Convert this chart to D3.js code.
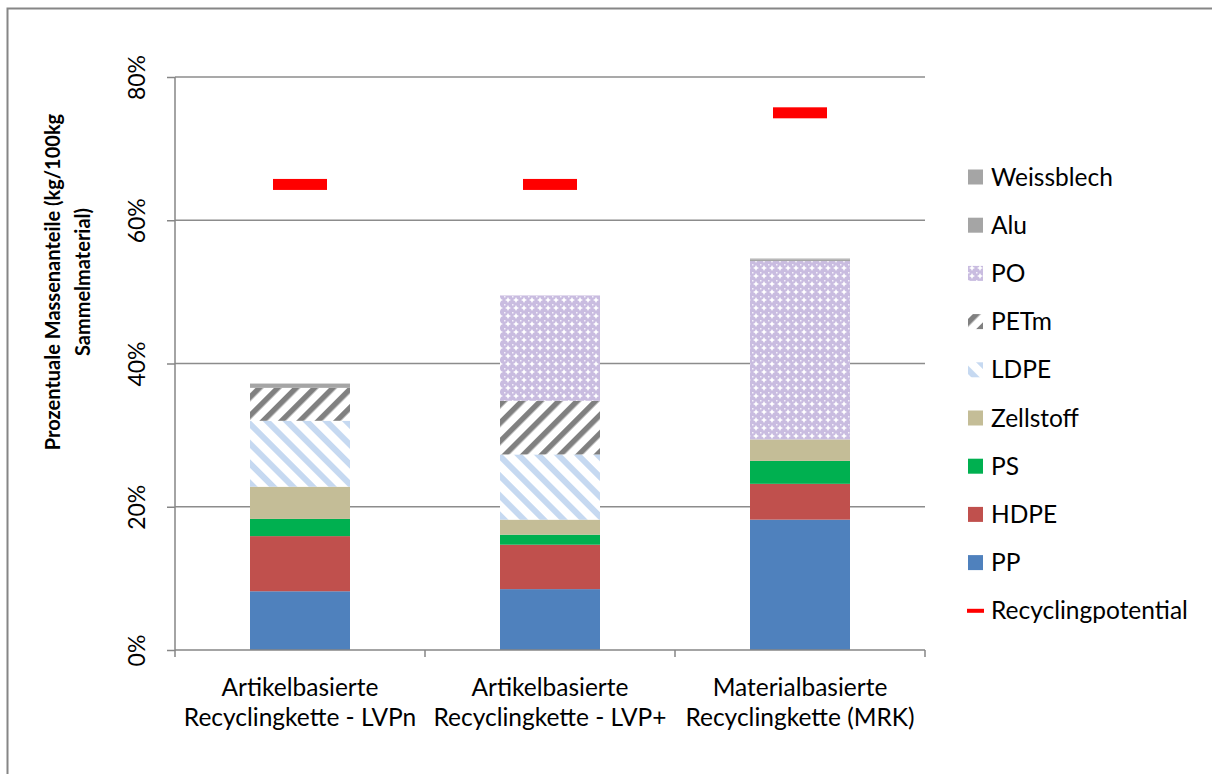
<!DOCTYPE html>
<html>
<head>
<meta charset="utf-8">
<script src="https://cdn.jsdelivr.net/npm/d3@7"></script>
<style>
body{margin:0;background:#fff;}
svg{display:block;font-family:Lato,"Open Sans",sans-serif;}
</style>
</head>
<body>
<svg id="chart" width="1212" height="774"></svg>
<script>
// ---- data ----
const categories = [
  ["Artikelbasierte", "Recyclingkette - LVPn"],
  ["Artikelbasierte", "Recyclingkette - LVP+"],
  ["Materialbasierte", "Recyclingkette (MRK)"]
];
const seriesNames = ["PP","HDPE","PS","Zellstoff","LDPE","PETm","PO","Alu","Weissblech"];
const PP         = [8.2, 8.5, 18.2];
const HDPE       = [7.7, 6.2, 5.0];
const PS         = [2.4, 1.4, 3.2];
const Zellstoff  = [4.5, 2.1, 3.0];
const LDPE       = [9.2, 9.1, 0];
const PETm       = [4.6, 7.5, 0];
const PO         = [0, 14.7, 24.9];
const Alu        = [0.4, 0, 0.2];
const Weissblech = [0.2, 0, 0.15];
const Recyclingpotential = [65, 65, 75];
const yTicks = [0, 20, 40, 60, 80];
const legendOrder = ["Weissblech","Alu","PO","PETm","LDPE","Zellstoff","PS","HDPE","PP","Recyclingpotential"];

const valuesBySeries = {PP, HDPE, PS, Zellstoff, LDPE, PETm, PO, Alu, Weissblech};
const fills = {
  PP:"#4f81bd", HDPE:"#c0504d", PS:"#00b050", Zellstoff:"#c4bd97",
  LDPE:"url(#pLDPE)", PETm:"url(#pPETm)", PO:"url(#pPO)",
  Alu:"#a5a5a5", Weissblech:"#a5a5a5"
};

const svg = d3.select("#chart");
const defs = svg.append("defs");

// patterns
const pL = defs.append("pattern").attr("id","pLDPE").attr("patternUnits","userSpaceOnUse")
  .attr("width",14).attr("height",14).attr("patternTransform","rotate(-45)");
pL.append("rect").attr("width",14).attr("height",14).attr("fill","#ffffff");
pL.append("rect").attr("width",6).attr("height",14).attr("fill","#c6d9f1");

const pP = defs.append("pattern").attr("id","pPETm").attr("patternUnits","userSpaceOnUse")
  .attr("width",13).attr("height",13).attr("patternTransform","rotate(45)");
pP.append("rect").attr("width",13).attr("height",13).attr("fill","#ffffff");
pP.append("rect").attr("width",5.5).attr("height",13).attr("fill","#808080");

const pO = defs.append("pattern").attr("id","pPO").attr("patternUnits","userSpaceOnUse")
  .attr("width",8).attr("height",8);
pO.append("rect").attr("width",8).attr("height",8).attr("fill","#c9bce0");
pO.append("path").attr("d","M4,1 L5,3 L7,4 L5,5 L4,7 L3,5 L1,4 L3,3 Z").attr("fill","#ffffff");
pO.append("rect").attr("x",0).attr("y",0).attr("width",1.5).attr("height",1.5).attr("fill","#f4f0fa");

// outer border (cropped frame)
svg.append("path").attr("d","M7.5,790 L7.5,8.5 L1230,8.5").attr("fill","none")
  .attr("stroke","#868686").attr("stroke-width",2);

// scales
const x = d3.scaleBand().domain(d3.range(categories.length)).range([175,925]).paddingInner(0).paddingOuter(0);
const y = d3.scaleLinear().domain([0,80]).range([650,77]);
const barW = 100;

// gridlines
svg.append("g").selectAll("line").data(yTicks.filter(t=>t>0)).join("line")
  .attr("x1",175).attr("x2",925).attr("y1",d=>y(d)).attr("y2",d=>y(d))
  .attr("stroke","#8c8c8c").attr("stroke-width",1.3);

// stacks
const rows = categories.map((c,i)=>{const r={i}; seriesNames.forEach(s=>r[s]=valuesBySeries[s][i]); return r;});
const stack = d3.stack().keys(seriesNames)(rows);
svg.append("g").selectAll("g").data(stack).join("g")
  .attr("fill",d=>fills[d.key])
  .selectAll("rect").data(d=>d).join("rect")
  .attr("x",d=>x(d.data.i)+x.bandwidth()/2-barW/2)
  .attr("width",barW)
  .attr("y",d=>y(d[1]))
  .attr("height",d=>Math.max(0,y(d[0])-y(d[1])));

// recycling potential markers
svg.append("g").selectAll("rect").data(Recyclingpotential).join("rect")
  .attr("x",(d,i)=>x(i)+x.bandwidth()/2-27).attr("width",54)
  .attr("y",d=>y(d)-5.5).attr("height",11).attr("fill","#ff0000");

// y axis
const yAxis = svg.append("g").attr("transform","translate(175,0)")
  .call(d3.axisLeft(y).tickValues(yTicks).tickSize(8).tickFormat(d=>d+"%"));
yAxis.select(".domain").attr("stroke","#868686").attr("stroke-width",1.5).attr("d","M0,650.5V77");
yAxis.selectAll(".tick line").attr("stroke","#868686").attr("stroke-width",1.5);
yAxis.selectAll(".tick text").attr("fill","#000").attr("font-size",23)
  .attr("font-family","Lato, sans-serif")
  .attr("transform",d=>`translate(-38,0) rotate(-90)`).attr("x",0).attr("dy","0.35em")
  .attr("text-anchor","middle");

// x axis
const xAxis = svg.append("g").attr("transform","translate(0,650)");
xAxis.append("line").attr("x1",175).attr("x2",925).attr("y1",0).attr("y2",0)
  .attr("stroke","#868686").attr("stroke-width",1.5);
xAxis.selectAll("line.t").data([175,425,675,925]).join("line").attr("class","t")
  .attr("x1",d=>d).attr("x2",d=>d).attr("y1",0).attr("y2",7)
  .attr("stroke","#868686").attr("stroke-width",1.5);
categories.forEach((c,i)=>{
  const t = svg.append("text").attr("x",x(i)+x.bandwidth()/2).attr("y",696)
    .attr("text-anchor","middle").attr("font-size",24.5).attr("fill","#000");
  c.forEach((line,k)=>t.append("tspan").attr("x",x(i)+x.bandwidth()/2).attr("y",696+k*30).text(line));
});

// y axis title
const yt = svg.append("text").attr("transform","translate(0,282) rotate(-90)")
  .attr("text-anchor","middle").attr("font-size",20).attr("font-weight","bold").attr("fill","#000");
yt.append("tspan").attr("x",0).attr("y",60).text("Prozentuale Massenanteile (kg/100kg");
yt.append("tspan").attr("x",0).attr("y",90).text("Sammelmaterial)");

// legend
const lg = svg.append("g");
legendOrder.forEach((name,k)=>{
  const cy = 177 + k*48.2;
  if(name==="Recyclingpotential"){
    lg.append("rect").attr("x",967).attr("y",cy-2).attr("width",17).attr("height",4).attr("fill","#ff0000");
  } else {
    lg.append("rect").attr("x",968).attr("y",cy-7.5).attr("width",15).attr("height",15).attr("fill",fills[name]);
  }
  lg.append("text").attr("x",991).attr("y",cy).attr("dy","0.35em").attr("font-size",24.5).attr("fill","#000").text(name);
});
</script>
</body>
</html>
